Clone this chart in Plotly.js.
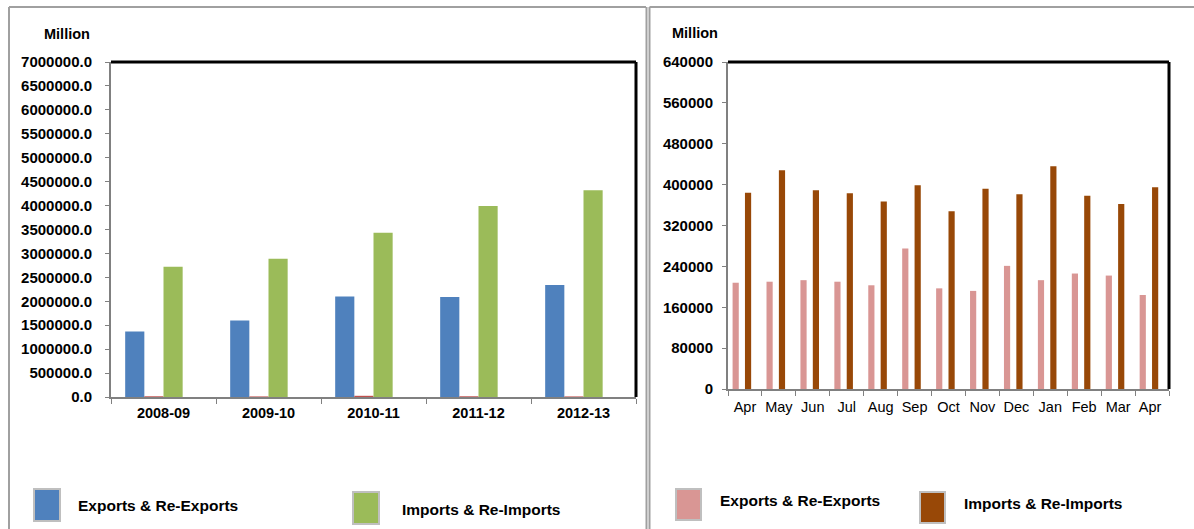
<!DOCTYPE html>
<html><head><meta charset="utf-8">
<script src="https://cdn.plot.ly/plotly-3.0.1.min.js"></script>
<style>html,body{margin:0;padding:0;background:#fff}#chart{width:1194px;height:529px}</style>
</head><body><div id="chart"></div>
<script>
// Left chart: annual (Million)
const years = ["2008-09", "2009-10", "2010-11", "2011-12", "2012-13"];
const annualExports = [1370000, 1600000, 2100000, 2090000, 2340000];
const annualOther = [15000, 12000, 25000, 15000, 12000];
const annualImports = [2720000, 2890000, 3430000, 3990000, 4320000];
const annualEmpty = [0, 0, 0, 0, 0];

// Right chart: monthly (Million)
const months = ["Apr", "May", "Jun", "Jul", "Aug", "Sep", "Oct", "Nov", "Dec", "Jan", "Feb", "Mar", "Apr "];
const monthlyExports = [208000, 210000, 213000, 210000, 203000, 275000, 197000, 192000, 241000, 213000, 226000, 222000, 184000];
const monthlyImports = [384000, 428000, 389000, 383000, 367000, 399000, 348000, 392000, 381000, 436000, 378000, 362000, 395000];
const monthlyEmpty = [0, 0, 0, 0, 0, 0, 0, 0, 0, 0, 0, 0, 0];

const legendLeft = ["Exports & Re-Exports", "Imports & Re-Imports"];
const legendRight = ["Exports & Re-Exports", "Imports & Re-Imports"];

const C = {blue: "#4f81bd", red: "#c0504d", green: "#9bbb59", pink: "#d99694", brown: "#984807", empty: "rgba(0,0,0,0)"};
const ARIAL = "Liberation Sans, Arial, sans-serif";
const NARROW = "Liberation Sans Narrow, Liberation Sans, Arial, sans-serif";

function bar(x, y, color, xa, ya) {
  return {type: "bar", x: x, y: y, xaxis: xa, yaxis: ya, marker: {color: color, line: {width: 0}}, hoverinfo: "skip", showlegend: false};
}

const data = [
  bar(years, annualExports, C.blue, "x", "y"),
  bar(years, annualOther, C.red, "x", "y"),
  bar(years, annualImports, C.green, "x", "y"),
  bar(years, annualEmpty, C.empty, "x", "y"),
  bar(months, monthlyExports, C.pink, "x2", "y2"),
  bar(months, monthlyEmpty, C.empty, "x2", "y2"),
  bar(months, monthlyImports, C.brown, "x2", "y2"),
  bar(months, monthlyEmpty, C.empty, "x2", "y2")
];

const W = 1194, H = 529;
const px = v => v / W, py = v => 1 - v / H;

const xCommon = {type: "category", showgrid: false, zeroline: false, showline: true, linecolor: "#808080", linewidth: 2,
  ticks: "outside", tickson: "boundaries", ticklen: 5, tickcolor: "#808080", tickwidth: 1, tickangle: 0, fixedrange: true};
const yCommon = {showgrid: false, zeroline: false, showline: true, linecolor: "#808080", linewidth: 2,
  ticks: "outside", ticklen: 4, tickcolor: "#808080", tickwidth: 1, fixedrange: true};

const layout = {
  width: W, height: H, margin: {l: 0, r: 0, t: 0, b: 0},
  paper_bgcolor: "#fff", plot_bgcolor: "#fff",
  barmode: "group", bargap: 0.27, bargroupgap: 0,
  showlegend: false,
  xaxis: Object.assign({}, xCommon, {domain: [px(111), px(636)], anchor: "y", ticklabelstandoff: 2,
    tickfont: {family: ARIAL, size: 14.5, color: "#000", weight: 700}}),
  yaxis: Object.assign({}, yCommon, {domain: [py(397), py(62)], anchor: "x", range: [0, 7000000], dtick: 500000,
    ticklabelstandoff: 10, tickformat: ".1f", tickfont: {family: ARIAL, size: 15, color: "#000", weight: 700}}),
  xaxis2: Object.assign({}, xCommon, {domain: [px(728), px(1169)], anchor: "y2", ticklabelstandoff: 4,
    tickfont: {family: ARIAL, size: 14.5, color: "#000"}}),
  yaxis2: Object.assign({}, yCommon, {domain: [py(389), py(62)], anchor: "x2", range: [0, 640000], dtick: 80000,
    ticklabelstandoff: 6, tickformat: "d", tickfont: {family: ARIAL, size: 15, color: "#000", weight: 700}}),
  shapes: [
    // panel frames
    {type: "line", xref: "paper", yref: "paper", x0: px(9), x1: px(646), y0: py(7), y1: py(7), line: {color: "#a0a0a0", width: 2}},
    {type: "line", xref: "paper", yref: "paper", x0: px(9), x1: px(9), y0: py(7), y1: 0, line: {color: "#a0a0a0", width: 2}},
    {type: "line", xref: "paper", yref: "paper", x0: px(646.5), x1: px(646.5), y0: py(7), y1: 0, line: {color: "#a0a0a0", width: 2}},
    {type: "line", xref: "paper", yref: "paper", x0: px(649.5), x1: px(1194), y0: py(7), y1: py(7), line: {color: "#a0a0a0", width: 2}},
    {type: "line", xref: "paper", yref: "paper", x0: px(649.5), x1: px(649.5), y0: py(7), y1: 0, line: {color: "#a0a0a0", width: 2}},
    // thick black plot frames (top & right)
    {type: "line", xref: "paper", yref: "paper", x0: px(111), x1: px(636), y0: py(62), y1: py(62), line: {color: "#000", width: 3}},
    {type: "line", xref: "paper", yref: "paper", x0: px(636), x1: px(636), y0: py(62), y1: py(397), line: {color: "#000", width: 3}},
    {type: "line", xref: "paper", yref: "paper", x0: px(728), x1: px(1169), y0: py(62), y1: py(62), line: {color: "#000", width: 3}},
    {type: "line", xref: "paper", yref: "paper", x0: px(1169), x1: px(1169), y0: py(62), y1: py(389), line: {color: "#000", width: 3}},
    // legend swatches
    {type: "rect", xref: "paper", yref: "paper", x0: px(34), x1: px(60), y0: py(489), y1: py(521), fillcolor: C.blue, line: {color: "#bfbfbf", width: 2}},
    {type: "rect", xref: "paper", yref: "paper", x0: px(353), x1: px(379), y0: py(492), y1: py(524), fillcolor: C.green, line: {color: "#bfbfbf", width: 2}},
    {type: "rect", xref: "paper", yref: "paper", x0: px(676), x1: px(701), y0: py(489), y1: py(520), fillcolor: C.pink, line: {color: "#bfbfbf", width: 2}},
    {type: "rect", xref: "paper", yref: "paper", x0: px(920), x1: px(945), y0: py(492), y1: py(523), fillcolor: C.brown, line: {color: "#bfbfbf", width: 2}}
  ],
  annotations: [
    {text: "Million", xref: "paper", yref: "paper", x: px(92), y: py(34), xanchor: "right", yanchor: "middle", showarrow: false,
      font: {family: ARIAL, size: 14.5, color: "#000", weight: 700}},
    {text: "Million", xref: "paper", yref: "paper", x: px(720), y: py(33), xanchor: "right", yanchor: "middle", showarrow: false,
      font: {family: ARIAL, size: 14.5, color: "#000", weight: 700}},
    {text: legendLeft[0], xref: "paper", yref: "paper", x: px(76), y: py(505), xanchor: "left", yanchor: "middle", showarrow: false,
      font: {family: NARROW, size: 15.5, color: "#000", weight: 700}},
    {text: legendLeft[1], xref: "paper", yref: "paper", x: px(400), y: py(509), xanchor: "left", yanchor: "middle", showarrow: false,
      font: {family: NARROW, size: 15.5, color: "#000", weight: 700}},
    {text: legendRight[0], xref: "paper", yref: "paper", x: px(718), y: py(500), xanchor: "left", yanchor: "middle", showarrow: false,
      font: {family: NARROW, size: 15.5, color: "#000", weight: 700}},
    {text: legendRight[1], xref: "paper", yref: "paper", x: px(962), y: py(503), xanchor: "left", yanchor: "middle", showarrow: false,
      font: {family: NARROW, size: 15.5, color: "#000", weight: 700}}
  ]
};

Plotly.newPlot("chart", data, layout, {staticPlot: true, displayModeBar: false});
</script></body></html>
